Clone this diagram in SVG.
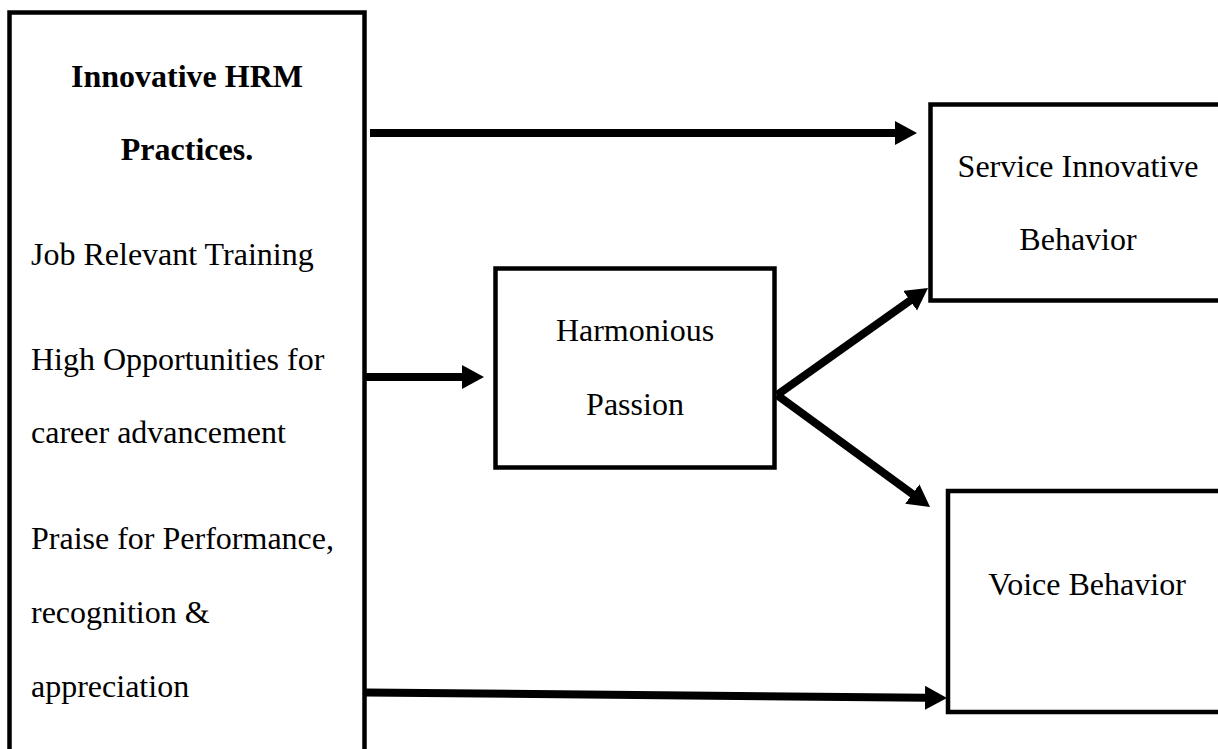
<svg xmlns="http://www.w3.org/2000/svg" width="1218" height="749" viewBox="0 0 1218 749">
  <defs>
    <marker id="arrow" markerUnits="userSpaceOnUse" markerWidth="24" markerHeight="26" refX="1" refY="12" orient="auto" viewBox="0 0 24 26">
      <path d="M0,0 L22,12 L0,24 Z" fill="#000"/>
    </marker>
    <style>
      .box { fill: #fff; stroke: #000; stroke-width: 4.5; }
      .t { font-family: "Liberation Serif", "Times New Roman", serif; font-size: 32px; fill: #000; }
      .b { font-weight: bold; }
      .c { text-anchor: middle; }
      .conn { fill: none; stroke: #000; stroke-width: 8; marker-end: url(#arrow); }
    </style>
  </defs>
  <rect width="1218" height="749" fill="#fff"/>

  <g id="hrm-practices">
    <rect class="box" x="9.5" y="12.5" width="355" height="780"/>
    <text class="t b c" x="187" y="87">Innovative HRM</text>
    <text class="t b c" x="187" y="160">Practices.</text>
    <text class="t" x="31" y="265">Job Relevant Training</text>
    <text class="t" x="31" y="370">High Opportunities for</text>
    <text class="t" x="31" y="443">career advancement</text>
    <text class="t" x="31" y="549">Praise for Performance,</text>
    <text class="t" x="31" y="623">recognition &amp;</text>
    <text class="t" x="31" y="697">appreciation</text>
  </g>

  <g id="harmonious-passion">
    <rect class="box" x="495.5" y="268.5" width="279" height="199"/>
    <text class="t c" x="635" y="341">Harmonious</text>
    <text class="t c" x="635" y="415">Passion</text>
  </g>

  <g id="service-innovative-behavior">
    <rect class="box" x="930.5" y="104.5" width="300" height="196"/>
    <text class="t c" x="1078" y="177">Service Innovative</text>
    <text class="t c" x="1078" y="250">Behavior</text>
  </g>

  <g id="voice-behavior">
    <rect class="box" x="948" y="491" width="300" height="221"/>
    <text class="t c" x="1087" y="595">Voice Behavior</text>
  </g>

  <g id="connectors">
    <path class="conn" d="M370,133 L896,133"/>
    <path class="conn" d="M366,377 L463,377"/>
    <path class="conn" d="M366,692.5 L926,697.8"/>
    <path class="conn" d="M777,395 L910.9,300.1"/>
    <path class="conn" d="M777,395 L913.1,494.6"/>
  </g>
</svg>
